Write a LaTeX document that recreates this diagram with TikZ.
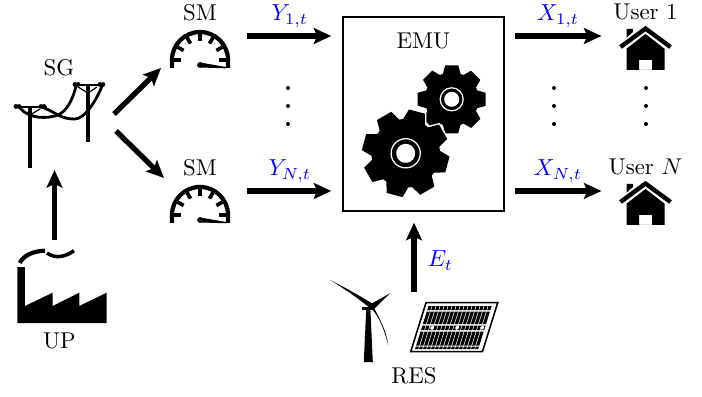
\documentclass[tikz,border=0pt]{standalone}
\usepackage{amsmath}
\usepackage{amssymb}
\usetikzlibrary{arrows.meta,positioning}

\tikzset{
    flow/.style={->,line width=3pt},
    txt/.style={scale=1.3,anchor=center},
    sig/.style={text=blue,inner sep=0pt,scale=1.32},
    icon/.style={inner sep=0pt,outer sep=0pt},
    dot/.style={circle,fill=black,inner sep=0pt,minimum size=0.08cm},
    pics/meter/.style={code={
        \draw[line width=2.4pt] (-28,0) -- (-28,-8) arc[start angle=180,end angle=360,radius=28] -- (28,0);
        \foreach \a in {180,210,...,360}
            \draw[line width=2.1pt] (\a:28) ++(0,-8) -- ++(\a+180:9);
        \fill (0,-3) circle[radius=2.9];
        \fill (0,-5.5) -- (26,-1) -- (26,0.3) -- (0,-0.5) -- cycle;
    }},
    pics/house/.style={code={
        \fill (-19,-32.3) -- (-19,-41) -- (-12.3,-41) -- (-12.3,-38.3) -- cycle;
        \draw[line width=2.5pt] (-25,-23) -- (0,-41.4) -- (25,-23);
        \fill[even odd rule] (0,-36) -- (19,-21.3) -- (19,0) -- (-19,0) -- (-19,-21.3) -- cycle
            (-6.5,0) rectangle (6.5,-10);
    }},
    pics/gear/.style={code={
        \foreach \a in {0,45,...,315} {
            \fill[white,draw=white,line width=1.6pt,rotate=\a] (25,-9) -- (34,-6.5) -- (34,6.5) -- (25,9) -- cycle;
        }
        \fill[white,draw=white,line width=1.6pt] (0,0) circle[radius=27];
        \foreach \a in {0,45,...,315} {
            \fill[rotate=\a] (25,-9) -- (34,-6.5) -- (34,6.5) -- (25,9) -- cycle;
        }
        \fill (0,0) circle[radius=27];
        \draw[white,line width=0.7pt] (0,0) circle[radius=11.5];
        \fill[white] (0,0) circle[radius=7.5];
    }},
    pics/pylons/.style={code={
        \draw[line width=2.3pt] (-29,-6) -- (-29,54);
        \draw[line width=2.3pt] (29,-29) -- (29,28);
        \draw[line width=1.6pt] (-45,-7) -- (-12,-7);
        \draw[line width=1.6pt] (14,-29) -- (45,-29);
        \foreach \p in {(-43,-7.5),(-40,-7.5),(-18,-7.5),(-15,-7.5),(16,-29.5),(19,-29.5),(41,-29.5),(44,-29.5)}
            \fill \p circle[radius=2.4];
        \draw[line width=0.7pt] (-39,-5) -- (-29,1) -- (-19,-5);
        \draw[line width=0.7pt] (19,-27) -- (29,-21) -- (38,-27);
        \draw[line width=1.6pt] (-39,-6) .. controls (-30,5) and (-12,5) .. (-1,1) .. controls (8,-3) and (14,-15) .. (17,-28);
        \draw[line width=1.6pt] (-17,-7) .. controls (-10,-4) and (-6,-2) .. (-1,1) .. controls (5,4) and (9,5) .. (16,5) .. controls (26,5) and (38,-15) .. (43,-28);
    }},
    pics/factory/.style={code={
        \fill (0,0) -- (0,-56) -- (7.7,-56) -- (7.7,-17) -- (35.4,-30.3) -- (35.4,-17) -- (62,-30.3) -- (62,-17) -- (89.4,-30.3) -- (89.4,0) -- cycle;
        \draw[line width=2.4pt] (2.7,-60) .. controls (5,-66) and (14,-72) .. (27.7,-72.3);
        \draw[line width=2pt] (29.7,-70) .. controls (38,-64) and (48,-66) .. (56.7,-72.3);
    }},
    pics/turbine/.style={code={
        \fill (3.8,0) -- (12.8,0) -- (10.3,-55) -- (6.3,-55) -- cycle;
        \fill (2.3,-55.3) rectangle (11.7,-52);
        \fill (-30,-82) .. controls (-10,-72) and (5,-63) .. (13,-58) -- (11,-53) .. controls (3,-60) and (-12,-71) .. (-30,-82) -- cycle;
        \fill (30,-68.7) -- (11,-58) -- (14,-53) -- cycle;
        \fill (10,-55) .. controls (20,-45) and (24,-32) .. (28.3,-17) .. controls (26,-32) and (20,-43) .. (13,-56) -- cycle;
    }},
    pics/panel/.style={code={
        \begin{scope}[xslant=0.312]
            \draw[line width=0.9pt,fill=white] (0,0) rectangle (71.7,49);
            \foreach \v/\w in {3.5/7.5,9/21.5,23/27.5,29/43,44/46.5} {
                \foreach \u in {3.5,7.5,...,66}
                    \fill (\u,\v) rectangle (\u+3.2,\w);
            }
            \foreach \u in {14,39,64}
                \fill[white] (\u,25) circle[radius=2];
        \end{scope}
    }}
}

\begin{document}
\begin{tikzpicture}[%
    >={Stealth[length=10pt,width=9pt,inset=2pt]},
    x=0.02cm,
    y=-0.02cm,
    on grid
    ]

    \useasboundingbox (0,0) rectangle (702,396);

    \node[draw,line width=0.8pt,minimum width=3.22cm,minimum height=3.88cm] (emu) at (423.5,114) {};
    \node (emuText) [below=0.5cm of emu.north,txt] {EMU};
    \pic at (451.7,99.3) {gear};
    \pic[scale=1.27,rotate=30] at (405.7,153.3) {gear};

    \node[icon,minimum width=1.28cm,minimum height=1.28cm] (smA) at (200,36) {};
    \node[icon,minimum width=1.28cm,minimum height=1.28cm] (smB) [below=3.1cm of smA] {};
    \node (smAText) [below=0.18cm of smA.north,txt] {SM};
    \node (smBText) [below=0.18cm of smB.north,txt] {SM};
    \pic at (smA.south) {meter};
    \pic at (smB.south) {meter};

    \node[icon,minimum width=1.04cm,minimum height=1.36cm] (userA) at (645.5,36) {};
    \node[icon,minimum width=1.04cm,minimum height=1.36cm] (userB) [below=3.1cm of userA] {};
    \node (userAText) [below=0.2cm of userA.north,txt] {User 1};
    \node (userBText) [below=0.2cm of userB.north,txt] {User $N$};
    \pic at (userA.south) {house};
    \pic at (userB.south) {house};

    \node[icon,minimum width=1.8cm,minimum height=2.16cm] (sg) at (59,114) {};
    \node (sgText) [below=0.16cm of sg.north,txt] {SG};
    \pic at (sg.center) {pylons};

    \node[icon,minimum width=1.79cm,minimum height=1.46cm] (up) at (62,286.5) {};
    \node (upText) [below=0.36cm of up.south,txt,xshift=-0.04cm] {UP};
    \pic at (up.south west) {factory};

    \node[icon,minimum width=1.2cm,minimum height=1.64cm] (wind) at (360,321) {};
    \node[icon,minimum width=1.74cm,minimum height=0.98cm] (pv) at (454.2,327.2) {};
    \node[txt] (resText) at (414,376) {RES};
    \pic at (wind.south) {turbine};
    \pic at (426,302.7) {panel};

    \coordinate (sgOutA) at (114,114);
    \coordinate (sgOutB) at (116,131);
    \coordinate (smAIn) at (161,68);
    \coordinate (smBIn) at (164,178);
    \coordinate (upOut) at (54.5,240);
    \coordinate (sgIn) at (54.5,170);
    \coordinate (resOut) at (414,292);

    \draw[flow] (upOut) -- (sgIn);
    \draw[flow] (sgOutA) -- (smAIn);
    \draw[flow] (sgOutB) -- (smBIn);
    \draw[flow,shorten <=0.3cm,shorten >=0.22cm] (smA.east) -- (smA.east -| emu.west)
        node[sig,midway,yshift=0.3cm,xshift=0.04cm] {$Y_{1,t}$};
    \draw[flow,shorten <=0.3cm,shorten >=0.22cm] (smB.east) -- (smB.east -| emu.west)
        node[sig,midway,yshift=0.3cm,xshift=0.04cm] {$Y_{N,t}$};
    \draw[flow,shorten <=0.2cm,shorten >=0.36cm] (userA.west -| emu.east) -- (userA.west)
        node[sig,pos=0.44,yshift=0.3cm,xshift=0.04cm] {$X_{1,t}$};
    \draw[flow,shorten <=0.2cm,shorten >=0.36cm] (userB.west -| emu.east) -- (userB.west)
        node[sig,pos=0.44,yshift=0.3cm,xshift=0.04cm] {$X_{N,t}$};
    \draw[flow,shorten >=0.22cm] (resOut) -- (resOut |- emu.south)
        node[sig,midway,xshift=0.4cm,yshift=-0.13cm] {$E_t$};

    \foreach \x/\n in {288/a,554/b,646/c} {
        \foreach \y in {88,106,124} {
            \node[dot] (dot\n\y) at (\x,\y) {};
        }
    }

    \end{tikzpicture}
\end{document}
